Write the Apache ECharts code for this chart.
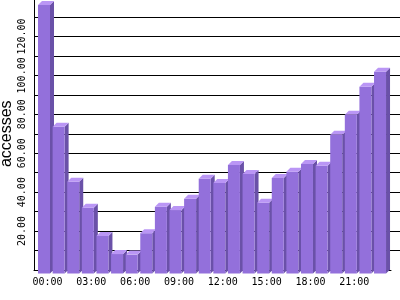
<!DOCTYPE html>
<html>
<head>
<meta charset="utf-8">
<script src="https://cdn.jsdelivr.net/npm/echarts@6/dist/echarts.min.js"></script>
<style>
html,body{margin:0;padding:0;background:#fff;}
#chart{width:400px;height:300px;}
</style>
</head>
<body>
<div id="chart"></div>
<script>
var hours = ['00:00','01:00','02:00','03:00','04:00','05:00','06:00','07:00','08:00','09:00','10:00','11:00',
             '12:00','13:00','14:00','15:00','16:00','17:00','18:00','19:00','20:00','21:00','22:00','23:00'];
var accesses = [138.0, 75.4, 47.2, 33.8, 19.3, 10.0, 9.7, 20.7, 34.3, 32.6, 38.4, 48.7,
                46.5, 55.8, 51.1, 36.4, 49.1, 52.3, 56.3, 55.4, 71.3, 81.6, 96.0, 103.7];
var yLabeledTicks = [20, 40, 60, 80, 100, 120];
var yMax = 140, yStep = 10;

var FRONT = '#9370DB', SIDE = '#6A51A8', TOP = '#BA96F5';
var SHIFT = 3.5, DEPTH = 4;

var splitColors = [];
for (var i = 0; i <= yMax / yStep; i++) splitColors.push(i === 0 ? 'rgba(0,0,0,0)' : '#000');

var chart = echarts.init(document.getElementById('chart'), null, {renderer: 'canvas'});
chart.setOption({
  animation: false,
  backgroundColor: '#fff',
  grid: [
    {left: 40.2, right: 9.16, top: -2.5, bottom: 30, containLabel: false, outerBoundsMode: 'none'},
    {left: 34, right: 0, top: -2.5, bottom: 30, containLabel: false, outerBoundsMode: 'none'},
    {left: 34, right: 9, top: -2.5, bottom: 30, containLabel: false, outerBoundsMode: 'none'}
  ],
  xAxis: [
    {type: 'category', gridIndex: 0, data: hours, boundaryGap: true,
     axisLine: {show: false}, axisTick: {show: false},
     axisLabel: {interval: 2, margin: 7, color: '#000', fontFamily: 'DejaVu Sans Mono', fontSize: 10}},
    {type: 'value', gridIndex: 1, show: false, min: 0, max: 1},
    {type: 'value', gridIndex: 2, min: 0, max: 1,
     axisLine: {show: true, onZero: false, lineStyle: {color: '#000', width: 1}},
     axisTick: {show: false}, axisLabel: {show: false}, splitLine: {show: false}}
  ],
  yAxis: [
    {type: 'value', gridIndex: 0, min: 0, max: yMax, show: false},
    {type: 'value', gridIndex: 1, min: 0, max: yMax, interval: yStep,
     axisLine: {show: true, lineStyle: {color: '#000', width: 1}},
     axisTick: {show: false},
     splitLine: {show: true, lineStyle: {color: splitColors, width: 1}},
     axisLabel: {rotate: 90, margin: 7, color: '#000', fontFamily: 'DejaVu Sans Mono', fontSize: 10,
       formatter: function (v) { return yLabeledTicks.indexOf(v) >= 0 ? v.toFixed(2) : ''; }},
     name: 'accesses', nameLocation: 'middle', nameRotate: 90, nameGap: 19, nameMoveOverlap: false,
     nameTextStyle: {color: '#000', fontFamily: 'Liberation Sans', fontSize: 16}},
    {type: 'value', gridIndex: 2, min: 0, max: 1, show: false}
  ],
  series: [{
    type: 'custom',
    xAxisIndex: 0, yAxisIndex: 0,
    clip: false,
    z: 5,
    data: accesses.map(function (v, i) { return [i, v]; }),
    renderItem: function (params, api) {
      var c = api.coord([api.value(0), api.value(1)]);
      var b = api.coord([api.value(0), 0]);
      var x = c[0], yv = c[1] + SHIFT, y0 = b[1] + SHIFT;
      var l = x - 9.5, r = x + 2.5;
      return {
        type: 'group',
        children: [
          {type: 'polygon', shape: {points: [[r, yv], [r + DEPTH, yv - DEPTH], [r + DEPTH, y0 - DEPTH], [r, y0]]},
           style: {fill: SIDE}},
          {type: 'rect', shape: {x: l, y: yv, width: r - l, height: y0 - yv}, style: {fill: FRONT}},
          {type: 'polygon', shape: {points: [[l, yv], [l + DEPTH, yv - DEPTH], [r + DEPTH, yv - DEPTH], [r, yv]]},
           style: {fill: TOP}}
        ]
      };
    }
  }]
});
</script>
</body>
</html>
